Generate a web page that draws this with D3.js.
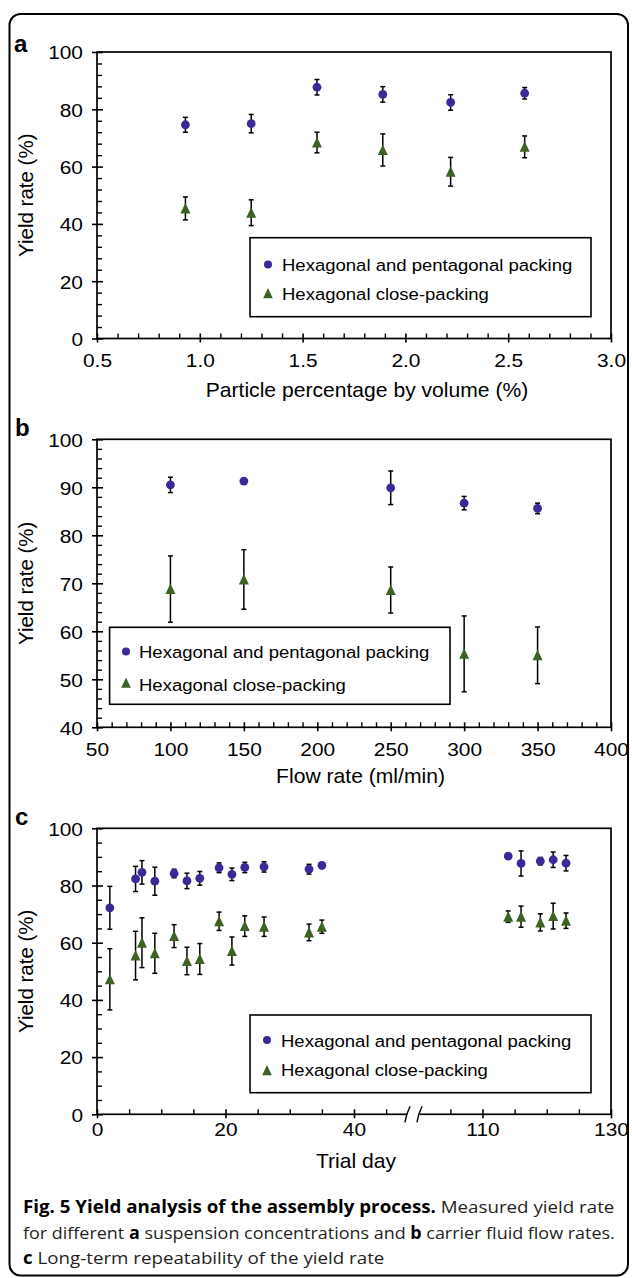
<!DOCTYPE html>
<html><head><meta charset="utf-8">
<script src="https://cdn.jsdelivr.net/npm/d3@7"></script>
<style>body{margin:0;background:#fff} svg{display:block}</style>
</head><body>
<svg id="chart" width="632" height="1278"></svg>
<script>
// ---------- DATA ----------
const seriesNames = ["Hexagonal and pentagonal packing", "Hexagonal close-packing"];

// Panel a: particle percentage by volume (%)
const aX = [0.93, 1.25, 1.57, 1.89, 2.22, 2.58];
const aHexPent = [74.6, 75.0, 87.7, 85.2, 82.4, 85.6];
const aHexPentErr = [2.6, 3.2, 2.7, 2.7, 2.7, 2.0];
const aHexClose = [45.4, 43.9, 68.4, 65.8, 58.2, 66.9];
const aHexCloseErr = [4.0, 4.5, 3.6, 5.6, 5.0, 3.8];
const aXTicks = [0.5, 1.0, 1.5, 2.0, 2.5, 3.0];
const aYTicks = [0, 20, 40, 60, 80, 100];

// Panel b: flow rate (ml/min)
const bX = [100, 150, 250, 300, 350];
const bHexPent = [90.5, 91.3, 89.9, 86.7, 85.6];
const bHexPentErr = [1.6, 0.4, 3.5, 1.4, 1.1];
const bHexClose = [68.8, 70.8, 68.6, 55.3, 55.0];
const bHexCloseErr = [6.9, 6.2, 4.8, 7.9, 5.9];
const bXTicks = [50, 100, 150, 200, 250, 300, 350, 400];
const bYTicks = [40, 50, 60, 70, 80, 90, 100];

// Panel c: trial day
const cDays = [2, 6, 7, 9, 12, 14, 16, 19, 21, 23, 26, 33, 35, 114, 116, 119, 121, 123];
const cHexPent = [72.2, 82.3, 84.6, 81.5, 84.2, 81.6, 82.5, 86.2, 83.9, 86.3, 86.5, 85.7, 87.0, 90.3, 87.7, 88.5, 89.0, 87.8];
const cHexPentErr = [7.5, 4.4, 4.1, 4.9, 1.5, 2.7, 2.4, 1.7, 2.2, 1.8, 1.8, 1.7, 0.8, 0.8, 4.4, 1.3, 2.7, 2.7];
const cHexClose = [47.2, 55.5, 60.0, 56.3, 62.3, 53.6, 54.3, 67.5, 57.1, 65.8, 65.6, 63.6, 65.6, 69.1, 69.1, 67.1, 69.3, 67.7];
const cHexCloseErr = [10.7, 8.5, 8.7, 7.0, 4.0, 4.8, 5.4, 3.2, 4.9, 3.6, 3.4, 2.9, 2.3, 2.0, 3.7, 3.0, 4.5, 2.7];
const cXTicks = [0, 20, 40, 110, 130];
const cXMinor = [5, 10, 15, 25, 30, 35, 45, 105, 115, 120, 125];
const cYTicks = [0, 20, 40, 60, 80, 100];

// ---------- DRAWING ----------
const svg = d3.select("#chart");
const SANS = "'Liberation Sans', Arial, Helvetica, sans-serif";
const C_BLUE = "#3a2a97", C_GREEN = "#3d6224";
const SX = 1.1;

svg.append("rect").attr("x", 9.5).attr("y", 14).attr("width", 618.5).attr("height", 1261.5)
  .attr("rx", 11).attr("fill", "none").attr("stroke", "#000").attr("stroke-width", 2);

function sText(g, x, y, str, size, sx, anchor, weight) {
  return g.append("text").attr("transform", `translate(${x},${y}) scale(${sx},1)`)
    .attr("text-anchor", anchor).style("font-family", SANS).style("font-size", size + "px")
    .style("font-weight", weight || "normal").attr("fill", "#000").text(str);
}

function triPath(cx, cy, hw, up, dn) {
  return `M${cx},${cy - up}L${cx + hw},${cy + dn}L${cx - hw},${cy + dn}Z`;
}

function panel(cfg) {
  const g = svg.append("g");
  const x = cfg.x, y = cfg.y;
  const [x0, x1] = [x.range()[0], x.range()[x.range().length - 1]];
  const [yb, yt] = y.range();

  // minor ticks (inward)
  g.append("g").attr("transform", `translate(${x0},0)`)
    .call(d3.axisLeft(y).tickValues(cfg.yMinor).tickSize(-5).tickFormat(""))
    .call(s => s.select(".domain").remove())
    .selectAll("line").attr("stroke-width", 1.4);
  g.append("g").attr("transform", `translate(0,${yb})`)
    .call(d3.axisBottom(x).tickValues(cfg.xMinor).tickSize(-5).tickFormat(""))
    .call(s => s.select(".domain").remove())
    .selectAll("line").attr("stroke-width", 1.4);

  // major y
  const gy = g.append("g").attr("transform", `translate(${x0},0)`)
    .call(d3.axisLeft(y).tickValues(cfg.yTicks).tickSize(5).tickPadding(9).tickFormat(d3.format("d")));
  gy.select(".domain").remove();
  gy.selectAll(".tick line").attr("x1", 6).attr("stroke-width", 1.6);
  gy.selectAll(".tick text").attr("x", -14 / SX).attr("dy", "0.36em")
    .attr("transform", `scale(${SX},1)`)
    .style("font-family", SANS).style("font-size", "19px").attr("fill", "#000");

  // major x
  const gx = g.append("g").attr("transform", `translate(0,${yb})`)
    .call(d3.axisBottom(x).tickValues(cfg.xTicks).tickSize(4).tickFormat(cfg.xFormat));
  gx.select(".domain").remove();
  gx.selectAll(".tick line").attr("y1", -5).attr("stroke-width", 1.6);
  gx.selectAll(".tick text").attr("y", cfg.xLabelOff).attr("dy", "0")
    .attr("transform", `scale(${SX},1)`)
    .style("font-family", SANS).style("font-size", "19px").attr("fill", "#000");

  // frame
  g.append("rect").attr("x", x0).attr("y", yt).attr("width", x1 - x0).attr("height", yb - yt)
    .attr("fill", "none").attr("stroke", "#000").attr("stroke-width", 1.7);

  if (cfg.afterFrame) cfg.afterFrame(g);

  // axis titles
  g.append("text").attr("transform", `translate(${cfg.yTitleX},${(yt + yb) / 2}) rotate(-90)`)
    .attr("text-anchor", "middle").style("font-family", SANS).style("font-size", "20.5px")
    .text("Yield rate (%)");
  sText(g, cfg.xTitleX, yb + cfg.xTitleOff, cfg.xTitle, 20.5, 1.03, "middle");

  // panel letter
  g.append("text").attr("x", cfg.letterX).attr("y", cfg.letterY).style("font-family", SANS)
    .style("font-size", "24px").style("font-weight", "bold").text(cfg.letter);

  // legend
  const L = cfg.legend;
  g.append("rect").attr("x", L.x0).attr("y", L.y0).attr("width", L.x1 - L.x0).attr("height", L.y1 - L.y0)
    .attr("fill", "#fff").attr("stroke", "#000").attr("stroke-width", 1.6);
  g.append("circle").attr("cx", L.mx).attr("cy", L.my[0]).attr("r", 4).attr("fill", C_BLUE);
  g.append("path").attr("d", triPath(L.mx, L.my[1], 4.8, 5.5, 4.8)).attr("fill", C_GREEN);
  sText(g, L.tx, L.ty[0], seriesNames[0], 17, 1.09, "start");
  sText(g, L.tx, L.ty[1], seriesNames[1], 17, 1.09, "start");

  // error bars + markers
  const series = [
    { xs: cfg.xs, v: cfg.s1, e: cfg.e1, kind: "circle" },
    { xs: cfg.xs, v: cfg.s2, e: cfg.e2, kind: "tri" }
  ];
  series.forEach(s => {
    const eb = g.append("g").attr("stroke", "#000").attr("stroke-width", 1.5);
    s.v.forEach((v, i) => {
      const px = x(s.xs[i]);
      const yTop = y(v + s.e[i]), yBot = y(v - s.e[i]);
      eb.append("line").attr("x1", px).attr("x2", px).attr("y1", yTop).attr("y2", yBot);
      eb.append("line").attr("x1", px - 2.5).attr("x2", px + 2.5).attr("y1", yTop).attr("y2", yTop);
      eb.append("line").attr("x1", px - 2.5).attr("x2", px + 2.5).attr("y1", yBot).attr("y2", yBot);
    });
  });
  series.forEach(s => {
    s.v.forEach((v, i) => {
      const px = x(s.xs[i]), py = y(v);
      if (s.kind === "circle") {
        g.append("circle").attr("cx", px).attr("cy", py).attr("r", 4.4).attr("fill", C_BLUE);
      } else {
        g.append("path").attr("d", triPath(px, py, 5, 5.6, 5)).attr("fill", C_GREEN);
      }
    });
  });
}

// Panel a
panel({
  letter: "a", letterX: 14, letterY: 52,
  x: d3.scaleLinear().domain([0.5, 3.0]).range([97, 611]),
  y: d3.scaleLinear().domain([0, 100]).range([338.5, 52]),
  xTicks: aXTicks, xMinor: d3.range(0.6, 2.95, 0.1).filter(v => Math.abs(v * 2 - Math.round(v * 2)) > 0.01),
  yTicks: aYTicks, yMinor: d3.range(4, 100, 4).filter(v => v % 20 !== 0),
  xFormat: d3.format(".1f"), xLabelOff: 29,
  xTitle: "Particle percentage by volume (%)", xTitleX: 367, xTitleOff: 58,
  yTitleX: 33,
  xs: aX, s1: aHexPent, e1: aHexPentErr, s2: aHexClose, e2: aHexCloseErr,
  legend: { x0: 250, x1: 591, y0: 237.7, y1: 316.7, mx: 268, my: [264.5, 293.5], tx: 282, ty: [270.7, 300] }
});

// Panel b
panel({
  letter: "b", letterX: 15, letterY: 436,
  x: d3.scaleLinear().domain([50, 400]).range([97, 611]),
  y: d3.scaleLinear().domain([40, 100]).range([727.3, 439.3]),
  xTicks: bXTicks, xMinor: d3.range(60, 400, 10).filter(v => v % 50 !== 0),
  yTicks: bYTicks, yMinor: d3.range(42, 100, 2).filter(v => v % 10 !== 0),
  xFormat: d3.format("d"), xLabelOff: 29,
  xTitle: "Flow rate (ml/min)", xTitleX: 360.5, xTitleOff: 55.4,
  yTitleX: 33,
  xs: bX, s1: bHexPent, e1: bHexPentErr, s2: bHexClose, e2: bHexCloseErr,
  legend: { x0: 109.6, x1: 450, y0: 627.3, y1: 704.3, mx: 126, my: [651.5, 683], tx: 139, ty: [658.3, 690.7] }
});

// Panel c (broken axis between 50 and 100)
const cUnit = (611 - 97) / 80;
const BREAK_AT = 49.5;
panel({
  letter: "c", letterX: 15, letterY: 825,
  x: d3.scaleLinear().domain([0, 50, 100, 130]).range([97, 97 + 50 * cUnit, 97 + 50 * cUnit, 611]),
  y: d3.scaleLinear().domain([0, 100]).range([1114.3, 828.3]),
  xTicks: cXTicks, xMinor: cXMinor,
  yTicks: cYTicks, yMinor: d3.range(5, 100, 5).filter(v => v % 20 !== 0),
  xFormat: d3.format("d"), xLabelOff: 22,
  xTitle: "Trial day", xTitleX: 356, xTitleOff: 53.7,
  yTitleX: 33,
  xs: cDays, s1: cHexPent, e1: cHexPentErr, s2: cHexClose, e2: cHexCloseErr,
  legend: { x0: 250, x1: 591, y0: 1015, y1: 1092.7, mx: 267, my: [1040, 1070.5], tx: 281, ty: [1046.7, 1076] },
  afterFrame: g => {
    const bx = 97 + BREAK_AT * cUnit - 1.5, by = 1114.3;
    g.append("rect").attr("x", bx - 6).attr("y", by - 3).attr("width", 12).attr("height", 6).attr("fill", "#fff");
    [-6, 6].forEach(dx => {
      g.append("path").attr("d", `M${bx + dx - 2.6},${by + 8} Q${bx + dx - 1.5},${by} ${bx + dx + 2.6},${by - 8}`)
        .attr("fill", "none").attr("stroke", "#000").attr("stroke-width", 1.4);
    });
  }
});

// ---------- CAPTION ----------
const CAP = "'Open Sans', 'Noto Sans', sans-serif";
const capX = 23, capW = 592, capFS = 17;
const capY = [1213, 1239, 1264];
const cap = svg.append("g").style("font-family", CAP).attr("fill", "#231f20").style("font-size", capFS + "px");
const l1 = cap.append("text");
l1.append("tspan").style("font-weight", "bold").attr("fill", "#000").text("Fig. 5 Yield analysis of the assembly process.");
l1.append("tspan").text(" Measured yield rate");
const l2 = cap.append("text");
l2.append("tspan").text("for different ");
l2.append("tspan").style("font-weight", "bold").attr("fill", "#000").text("a");
l2.append("tspan").text(" suspension concentrations and ");
l2.append("tspan").style("font-weight", "bold").attr("fill", "#000").text("b");
l2.append("tspan").text(" carrier fluid flow rates.");
const l3 = cap.append("text");
l3.append("tspan").style("font-weight", "bold").attr("fill", "#000").text("c");
l3.append("tspan").text(" Long-term repeatability of the yield rate");

const sx1 = capW / l1.node().getComputedTextLength();
const sx2 = capW / l2.node().getComputedTextLength();
l1.attr("transform", `translate(${capX},${capY[0]}) scale(${sx1},1)`);
l2.attr("transform", `translate(${capX},${capY[1]}) scale(${sx2},1)`);
l3.attr("transform", `translate(${capX},${capY[2]}) scale(${sx1},1)`);
</script>
</body></html>
